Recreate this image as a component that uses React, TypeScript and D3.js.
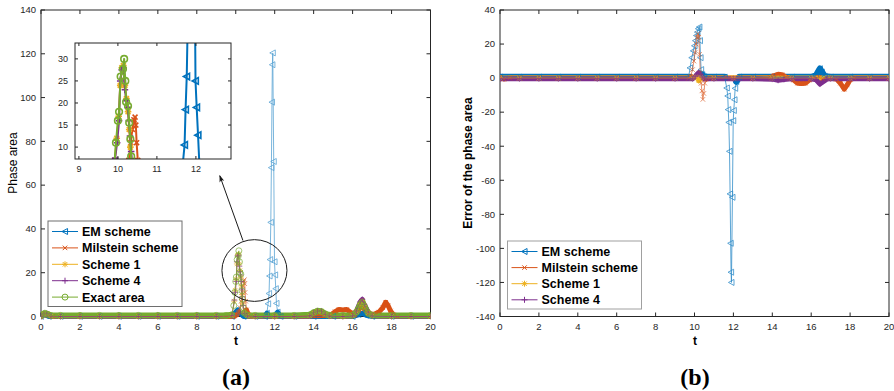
import React from 'react';
import * as d3 from 'd3';

type Pt = [number, number];

// (a) phase area, read as [t, value]
const emArea: Pt[] = [[0,0],[0.2,0.8],[0.4,0],[1,0],[2,0],[3,0],[4,0],[5,0],[6,0],[7,0],[8,0],[9,0],[9.8,0],[9.95,1.5],[10.1,3],[10.25,1.2],[10.4,0],[11,0],[11.5,0],[11.6,1.5],[11.66,5.8],[11.71,10.5],[11.735,18.5],[11.765,26],[11.8,43],[11.83,68],[11.86,97.9],[11.88,115],[11.9,120.4],[11.95,70.8],[11.99,25],[12.02,19],[12.055,12.7],[12.09,6],[12.15,2],[12.3,0],[13,0],[14,0],[15,0],[16,0],[16.3,0.8],[16.5,1.5],[16.7,0.5],[17,0],[18,0],[19,0],[20,0]];
const milsteinArea: Pt[] = [[0,0],[0.15,1],[0.35,0.5],[0.6,0],[1,0],[2,0],[3,0],[4,0],[5,0],[6,0],[7,0],[8,0],[9,0],[9.9,0],[10.05,0.8],[10.15,2],[10.22,4],[10.28,7],[10.33,11],[10.37,14],[10.41,16.2],[10.44,16.8],[10.46,15],[10.48,11],[10.51,7],[10.55,3],[10.65,0.8],[10.8,0],[11,0],[12,0],[13,0],[14,0.3],[14.5,0.5],[14.9,0.8],[15.1,2.2],[15.3,3.2],[15.5,3],[15.7,3.2],[15.9,1.8],[16.1,0.6],[16.3,2.5],[16.45,5.5],[16.6,3.5],[16.8,1.2],[17.1,1],[17.35,2],[17.55,4],[17.7,6.5],[17.82,5],[17.95,2.5],[18.1,0.8],[18.3,0],[19,0],[20,0]];
const scheme1Area: Pt[] = [[0,0],[0.15,1.2],[0.3,1.3],[0.5,0.2],[1,0],[2,0],[3,0],[4,0],[5,0],[6,0],[7,0],[8,0],[9,0],[9.8,0.4],[9.92,7],[9.97,12],[10.02,17],[10.06,24],[10.1,28],[10.14,28.5],[10.18,24],[10.22,21],[10.26,18],[10.29,14],[10.32,10],[10.35,6],[10.42,2],[10.6,0.3],[11,0],[12,0],[13,0],[13.8,0.3],[14,1.6],[14.2,2.4],[14.4,2.2],[14.6,1],[14.8,0.2],[15.5,0],[16,0.3],[16.2,2.2],[16.4,6],[16.5,7.2],[16.6,5],[16.8,1.8],[17,0.3],[18,0],[19,0],[20,0]];
const scheme4Area: Pt[] = [[0,0],[0.15,1.2],[0.3,1.4],[0.5,0.2],[1,0],[2,0],[3,0],[4,0],[5,0],[6,0],[7,0],[8,0],[9,0],[9.8,0.4],[9.93,7.5],[9.98,11],[10.03,16],[10.06,25],[10.1,27.5],[10.14,28],[10.18,23],[10.22,20.5],[10.25,19],[10.28,16],[10.31,12.5],[10.34,9],[10.38,5],[10.45,1.5],[10.6,0.3],[11,0],[12,0],[13,0],[13.8,0.3],[14,1.7],[14.2,2.5],[14.4,2.4],[14.6,1],[14.8,0.2],[15.5,0],[16,0.3],[16.2,2.5],[16.4,6.8],[16.5,7.8],[16.6,5.5],[16.8,2],[17,0.3],[18,0],[19,0],[20,0]];
const exactArea: Pt[] = [[0,0.5],[0.1,1],[0.2,1.5],[0.35,1],[0.5,0.5],[1,0.5],[2,0.5],[3,0.5],[4,0.5],[5,0.5],[6,0.5],[7,0.5],[8,0.5],[9,0.5],[9.5,0.5],[9.8,0.8],[9.9,5],[9.95,11],[10.0,16],[10.03,18],[10.07,26],[10.13,27.7],[10.16,30],[10.19,25],[10.21,20.2],[10.26,19.3],[10.29,15.5],[10.32,11.8],[10.34,7.9],[10.38,4],[10.45,1.5],[10.6,0.6],[11,0.5],[12,0.5],[13,0.5],[13.8,0.8],[14.0,1.8],[14.2,2.5],[14.4,2.3],[14.6,1.2],[14.8,0.6],[15.5,0.5],[16.0,0.6],[16.2,2],[16.4,5.5],[16.5,6.5],[16.6,4.5],[16.8,1.5],[17,0.6],[18,0.5],[19,0.5],[20,0.5]];

// (b) error of the phase area
const emError: Pt[] = [[0,0.6],[1,0.6],[2,0.6],[3,0.6],[4,0.6],[5,0.6],[6,0.6],[7,0.6],[8,0.6],[9,0.6],[9.7,0.6],[9.77,6],[9.86,12],[9.94,16],[10.0,19],[10.05,22],[10.1,25],[10.15,27],[10.2,29],[10.25,30],[10.28,22],[10.31,12],[10.34,5],[10.4,2],[10.5,0.8],[11,0.6],[11.55,0.6],[11.66,-5.8],[11.71,-10.5],[11.735,-18.5],[11.765,-26],[11.8,-43],[11.83,-68],[11.86,-97],[11.88,-114],[11.9,-120],[11.95,-70],[11.99,-25],[12.02,-19],[12.055,-12.7],[12.09,-6],[12.15,-2],[12.3,0.6],[13,0.6],[14,0.6],[15,0.6],[16,0.6],[16.25,1.5],[16.35,3.5],[16.45,5.5],[16.55,3.5],[16.7,1],[17,0.6],[18,0.6],[19,0.6],[20,0.6]];
const milsteinError: Pt[] = [[0,0.5],[0.2,-0.5],[0.5,0],[1,0],[2,0],[3,0],[4,0],[5,0],[6,0],[7,0],[8,0],[9,0],[9.7,0],[9.8,1],[9.9,5],[9.97,10],[10.03,15],[10.08,20],[10.13,24],[10.18,26],[10.22,24],[10.26,14],[10.3,3],[10.34,-3],[10.38,-7.5],[10.43,-12.5],[10.48,-9],[10.53,-3],[10.6,-0.5],[10.8,0],[11,0],[12,0],[13,0],[13.9,0.3],[14.1,1.5],[14.3,2.2],[14.5,2],[14.7,0.6],[14.9,0],[15.1,-1.2],[15.3,-3],[15.5,-3.2],[15.7,-3],[15.9,-1.2],[16.1,0],[16.4,0.5],[16.6,-0.5],[16.9,0],[17.3,-0.5],[17.5,-3],[17.7,-6.5],[17.85,-4],[18,-1],[18.2,0],[19,0],[20,0]];
const scheme1Error: Pt[] = [[0,0],[1,0],[2,0],[3,0],[4,0],[5,0],[6,0],[7,0],[8,0],[9,0],[9.9,0],[10.05,0.8],[10.15,0.5],[10.22,-1.5],[10.3,0.3],[10.4,0],[11,0],[12,0],[13,0],[14,0],[15,0],[16,0],[17,0],[18,0],[19,0],[20,0]];
const scheme4Error: Pt[] = [[0,-0.4],[1,-0.4],[2,-0.4],[3,-0.4],[4,-0.4],[5,-0.4],[6,-0.4],[7,-0.4],[8,-0.4],[9,-0.4],[9.9,-0.4],[10.05,1],[10.15,2.5],[10.22,3.2],[10.3,2.5],[10.4,0.5],[10.5,-0.4],[11,-0.4],[12,-0.4],[13,-0.4],[14,-0.6],[14.3,-1.3],[14.6,-0.8],[15,-0.4],[16,-0.4],[16.25,-1],[16.45,-3.5],[16.6,-2.2],[16.8,-0.6],[17,-0.4],[18,-0.4],[19,-0.4],[20,-0.4]];

const xTicks = [0, 2, 4, 6, 8, 10, 12, 14, 16, 18, 20];
const yTicksA = [0, 20, 40, 60, 80, 100, 120, 140];
const yTicksB = [-140, -120, -100, -80, -60, -40, -20, 0, 20, 40];
const insetXTicks = [9, 10, 11, 12];
const insetYTicks = [10, 15, 20, 25, 30];

const namesA = ['EM scheme', 'Milstein scheme', 'Scheme 1', 'Scheme 4', 'Exact area'];
const namesB = ['EM scheme', 'Milstein scheme', 'Scheme 1', 'Scheme 4'];
const colors = ['#0072BD', '#D95319', '#EDB120', '#7E2F8E', '#77AC30'];
const markerKinds = ['tri', 'x', 'star', 'plus', 'circle'];

const FONT = '"Liberation Sans", Arial, Helvetica, sans-serif';
const INK = '#262626';

function Marker({ kind, x, y, s, color, sw }: any) {
  const common = { fill: 'none', stroke: color, strokeWidth: sw };
  if (kind === 'tri')
    return <path d={`M${x - s},${y}L${x + s * 0.85},${y - s}L${x + s * 0.85},${y + s}Z`} {...common} />;
  if (kind === 'circle') return <circle cx={x} cy={y} r={s} {...common} />;
  const k = s * 0.75;
  const plus = `M${x - s},${y}L${x + s},${y}M${x},${y - s}L${x},${y + s}`;
  const cross = `M${x - k},${y - k}L${x + k},${y + k}M${x - k},${y + k}L${x + k},${y - k}`;
  if (kind === 'x') return <path d={cross} {...common} />;
  if (kind === 'plus') return <path d={plus} {...common} />;
  return <path d={plus + cross} {...common} />; // star
}

function Series({ data, x, y, color, kind, lw, ms, msw, opacity = 1 }: any) {
  const line = d3.line<Pt>().x(d => x(d[0])).y(d => y(d[1]));
  return (
    <g opacity={opacity}>
      <path d={line(data) || ''} fill="none" stroke={color} strokeWidth={lw} strokeLinejoin="round" />
      {data.map((d: Pt, i: number) => (
        <Marker key={i} kind={kind} x={x(d[0])} y={y(d[1])} s={ms} color={color} sw={msw} />
      ))}
    </g>
  );
}

// thick band where the dense markers pile up near zero:
// only flat-ish segments close to the baseline get it
function Band({ data, x, y, color, width, thr }: any) {
  const line = d3.line<Pt>().x(d => x(d[0])).y(d => y(d[1]));
  const runs: Pt[][] = [];
  let cur: Pt[] = [];
  for (let i = 1; i < data.length; i++) {
    const a = data[i - 1], b = data[i];
    const dx = Math.abs(x(b[0]) - x(a[0])), dy = Math.abs(y(b[1]) - y(a[1]));
    const ok = Math.abs(a[1]) < thr && Math.abs(b[1]) < thr && dy <= 2.5 * dx;
    if (ok) {
      if (!cur.length) cur.push(a);
      cur.push(b);
    } else if (cur.length) { runs.push(cur); cur = []; }
  }
  if (cur.length) runs.push(cur);
  return (
    <g>
      {runs.map((r, i) => (
        <path key={i} d={line(r) || ''} fill="none" stroke={color} strokeWidth={width} strokeLinejoin="round" strokeLinecap="round" />
      ))}
    </g>
  );
}

function Frame({ x, y, xt, yt, tick = 4, fs = 9.5, xlab = 13, ylab = 5 }: any) {
  const [x0, x1] = x.range();
  const [yb, yt0] = y.range();
  return (
    <g fontFamily={FONT} fontSize={fs} fill={INK}>
      <rect x={x0} y={yt0} width={x1 - x0} height={yb - yt0} fill="none" stroke={INK} strokeWidth={1} />
      {xt.map((t: number) => (
        <g key={'x' + t}>
          <line x1={x(t)} x2={x(t)} y1={yb} y2={yb - tick} stroke={INK} />
          <line x1={x(t)} x2={x(t)} y1={yt0} y2={yt0 + tick} stroke={INK} />
          <text x={x(t)} y={yb + xlab} textAnchor="middle">{t}</text>
        </g>
      ))}
      {yt.map((v: number) => (
        <g key={'y' + v}>
          <line x1={x0} x2={x0 + tick} y1={y(v)} y2={y(v)} stroke={INK} />
          <line x1={x1} x2={x1 - tick} y1={y(v)} y2={y(v)} stroke={INK} />
          <text x={x0 - ylab} y={y(v)} dy="0.35em" textAnchor="end">{v}</text>
        </g>
      ))}
    </g>
  );
}

function Legend({ x0, y0, w, h, names, step, border }: any) {
  return (
    <g>
      <rect x={x0} y={y0} width={w} height={h} fill="#fff" stroke={border} strokeWidth={1} />
      {names.map((n: string, i: number) => {
        const cy = y0 + 10.5 + i * step;
        return (
          <g key={n}>
            <line x1={x0 + 4} x2={x0 + 30} y1={cy} y2={cy} stroke={colors[i]} strokeWidth={1} />
            <Marker kind={markerKinds[i]} x={x0 + 17} y={cy} s={3} color={colors[i]} sw={1} />
            <text x={x0 + 34} y={cy} dy="0.36em" fontFamily={FONT} fontWeight="bold" fontSize={12.5} fill="#000">{n}</text>
          </g>
        );
      })}
    </g>
  );
}

export default function App() {
  const xA = d3.scaleLinear().domain([0, 20]).range([41, 430.5]);
  const yA = d3.scaleLinear().domain([0, 140]).range([316.5, 10]);
  const xI = d3.scaleLinear().domain([8.9, 12.9]).range([75, 231]);
  const yI = d3.scaleLinear().domain([7.3, 33.6]).range([159, 43]);
  const xB = d3.scaleLinear().domain([0, 20]).range([500, 889]);
  const yB = d3.scaleLinear().domain([-140, 40]).range([316.5, 10]);

  const areaSeries = [emArea, milsteinArea, scheme1Area, scheme4Area, exactArea];
  const errorSeries = [emError, milsteinError, scheme1Error, scheme4Error];
  const bandA = [5, 5, 5, 5, 6];
  const bandB = [6.5, 5, 5, 5];

  // annotation circle and arrow (data units)
  const cT = 10.96, cV = 21, rT = 1.67, rV = 14.1;

  return (
    <svg width={894} height={391} style={{ display: 'block', position: 'absolute', left: 0, top: 0 }}>
      <defs>
        <clipPath id="plotA"><rect x={41} y={10} width={389.5} height={310} /></clipPath>
        <clipPath id="plotB"><rect x={500} y={10} width={389} height={310} /></clipPath>
        <clipPath id="inset"><rect x={75} y={43} width={156} height={116} /></clipPath>
        <marker id="arrow" viewBox="0 0 10 10" refX="9" refY="5" markerWidth="7" markerHeight="7" orient="auto-start-reverse">
          <path d="M0,1.5L10,5L0,8.5L2.5,5Z" fill="#1a1a1a" />
        </marker>
      </defs>
      <rect width={894} height={391} fill="#fff" />

      {/* (a) */}
      <Frame x={xA} y={yA} xt={xTicks} yt={yTicksA} />
      <g clipPath="url(#plotA)">
        {areaSeries.map((s, i) => (
          <Band key={'ba' + i} data={s} x={xA} y={yA} color={colors[i]} width={bandA[i]} thr={8} />
        ))}
        {areaSeries.map((s, i) => (
          <Series key={'sa' + i} data={s} x={xA} y={yA} color={colors[i]} kind={markerKinds[i]}
            lw={0.8} ms={3} msw={0.8} opacity={i === 0 ? 0.65 : 0.85} />
        ))}
      </g>
      <ellipse cx={xA(cT)} cy={yA(cV)} rx={xA(cT + rT) - xA(cT)} ry={yA(cV) - yA(cV + rV)} fill="none" stroke="#1a1a1a" strokeWidth={1} />
      <line x1={xA(10.37)} y1={yA(34.7)} x2={xA(9.18)} y2={yA(64.3)} stroke="#1a1a1a" strokeWidth={1} markerEnd="url(#arrow)" />

      {/* inset */}
      <rect x={75} y={43} width={156} height={116} fill="#fff" />
      <g clipPath="url(#inset)">
        {areaSeries.map((s, i) => (
          <Series key={'si' + i} data={s} x={xI} y={yI} color={colors[i]} kind={markerKinds[i]}
            lw={2} ms={3.3} msw={1.6} />
        ))}
      </g>
      <Frame x={xI} y={yI} xt={insetXTicks} yt={insetYTicks} tick={3} fs={9} xlab={13} ylab={7} />

      <Legend x0={48} y0={221} w={134} h={85.5} names={namesA} step={16.4} border="#6e6e6e" />

      <text transform="translate(17,163) rotate(-90)" textAnchor="middle" fontFamily={FONT} fontSize={12} fill="#000">Phase area</text>
      <text x={236} y={345} textAnchor="middle" fontFamily={FONT} fontWeight="bold" fontSize={12} fill="#000">t</text>
      <text x={236} y={385} textAnchor="middle" fontFamily='"Liberation Serif", "Times New Roman", serif' fontWeight="bold" fontSize={24} fill="#000">(a)</text>

      {/* (b) */}
      <Frame x={xB} y={yB} xt={xTicks} yt={yTicksB} />
      <g clipPath="url(#plotB)">
        {errorSeries.map((s, i) => (
          <Band key={'bb' + i} data={s} x={xB} y={yB} color={colors[i]} width={bandB[i]} thr={7} />
        ))}
        {errorSeries.map((s, i) => (
          <Series key={'sb' + i} data={s} x={xB} y={yB} color={colors[i]} kind={markerKinds[i]}
            lw={0.8} ms={3} msw={0.8} opacity={0.8} />
        ))}
      </g>
      <Legend x0={507.5} y0={241} w={134} h={68} names={namesB} step={16.1} border="#a0a0a0" />

      <text transform="translate(472,163) rotate(-90)" textAnchor="middle" fontFamily={FONT} fontWeight="bold" fontSize={12} fill="#000">Error of the phase area</text>
      <text x={695} y={345} textAnchor="middle" fontFamily={FONT} fontWeight="bold" fontSize={12} fill="#000">t</text>
      <text x={695} y={385} textAnchor="middle" fontFamily='"Liberation Serif", "Times New Roman", serif' fontWeight="bold" fontSize={24} fill="#000">(b)</text>
    </svg>
  );
}
